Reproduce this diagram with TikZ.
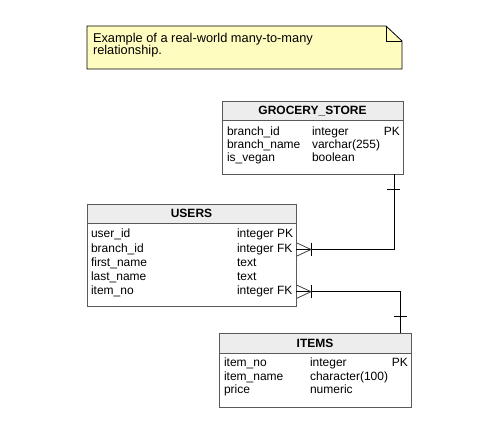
\documentclass[tikz,border=0pt]{standalone}
\usepackage{fontspec}
\setmainfont{Liberation Sans}
\begin{document}
\begin{tikzpicture}[x=1pt,y=-1pt,
  every node/.style={inner sep=0pt,outer sep=0pt,font=\fontsize{12}{13}\selectfont},
  tbl/.style={draw=black!65,line width=0.8pt,fill=white},
  hdr/.style={draw=black!65,line width=0.8pt,fill=black!7},
  ttl/.style={anchor=base,font=\fontsize{12}{13}\selectfont\bfseries},
  fld/.style={anchor=base west},
  fldr/.style={anchor=base east},
  notetxt/.style={anchor=base west,font=\fontsize{12.8}{14}\selectfont},
  conn/.style={draw=black,line width=0.9pt},
  foot/.style={draw=black!75,line width=0.8pt}]
\useasboundingbox (0,0) rectangle (499,441);
% note
\fill[fill=yellow!25!white] (87,26) -- (386,26) -- (402,41) -- (402,69) -- (87,69) -- cycle;
\draw[line width=0.8pt] (87,26) -- (386,26) -- (402,41) -- (402,69) -- (87,69) -- cycle;
\draw[line width=0.8pt] (386,26) -- (386,41) -- (402,41);
\node[notetxt] (n1) at (93,42.5) {Example of a real-world many-to-many};
\node[notetxt] (n2) at (93,55) {relationship.};
% grocery
\path[tbl] (222,120) rectangle (403,174);
\path[hdr] (222,101) rectangle (403,120);
\node[ttl] (gt) at (312.5,115) {GROCERY\_STORE};
\coordinate (gbot) at (394,174);
\node[fld] at (227,136) {branch\_id};
\node[fld] at (227,149) {branch\_name};
\node[fld] at (227,162) {is\_vegan};
\node[fld] at (312,136) {integer};
\node[fld] at (312,149) {varchar(255)};
\node[fld] at (312,162) {boolean};
\node[fldr] at (400,136) {PK};
% users
\path[tbl] (87,223) rectangle (296,306);
\path[hdr] (87,204) rectangle (296,223);
\node[ttl] (ut) at (191.5,218) {USERS};
\node[fld] at (91,238) {user\_id};
\node[fld] at (91,252.3) {branch\_id};
\node[fld] at (91,266.5) {first\_name};
\node[fld] at (91,280.7) {last\_name};
\node[fld] at (91,295) {item\_no};
\node[fld] at (237,238) {integer PK};
\node[fld] at (237,252.3) {integer FK};
\node[fld] at (237,266.5) {text};
\node[fld] at (237,280.7) {text};
\node[fld] at (237,295) {integer FK};
\coordinate (u1) at (296,249.5);
\coordinate (u2) at (296,291.7);
% items
\path[tbl] (219,353) rectangle (411,407);
\path[hdr] (219,333) rectangle (411,353);
\node[ttl] (it) at (315,347.5) {ITEMS};
\coordinate (itop) at (400.5,333);
\node[fld] at (224,367) {item\_no};
\node[fld] at (224,380.5) {item\_name};
\node[fld] at (224,394) {price};
\node[fld] at (310,367) {integer};
\node[fld] at (310,380.5) {character(100)};
\node[fld] at (310,394) {numeric};
\node[fldr] at (408,367) {PK};
% connector 1
\draw[conn] (u1) -- ++(15,0) -| (gbot);
\draw[conn] (387,189) -- (400,189);
\draw[conn] (311,243) -- (311,256);
\draw[foot] (297,243) -- (311,249.5) -- (297,256);
% connector 2
\draw[conn] (u2) -- ++(15,0) -| (itop);
\draw[conn] (394,316.7) -- (407,316.7);
\draw[conn] (311,285.2) -- (311,298.2);
\draw[foot] (297,285.2) -- (311,291.7) -- (297,298.2);
\end{tikzpicture}
\end{document}
